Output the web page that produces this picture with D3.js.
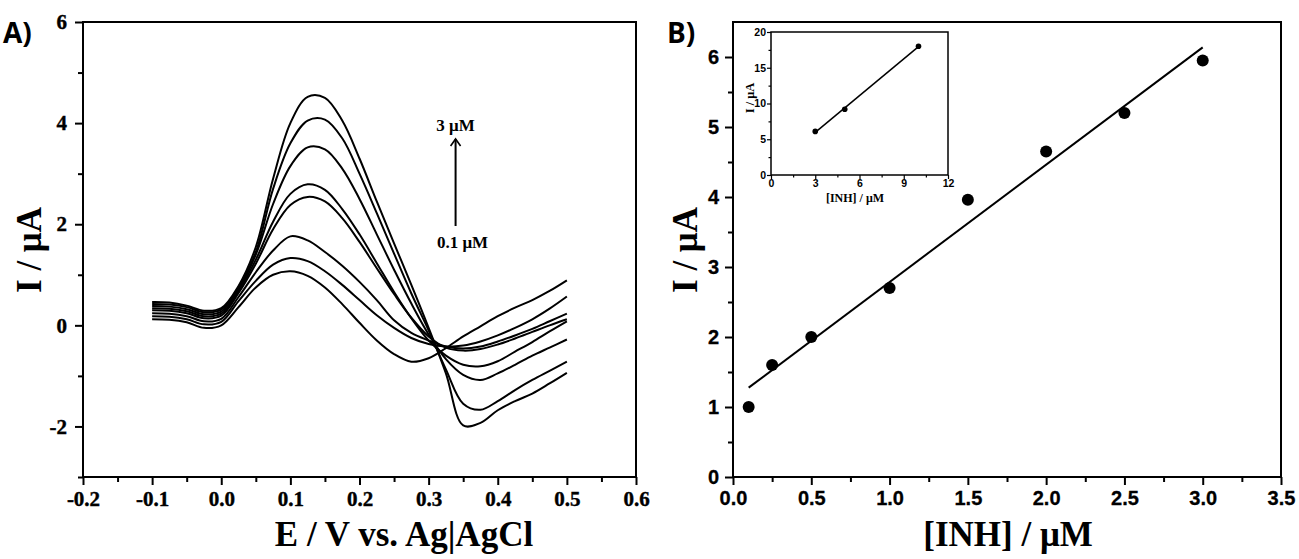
<!DOCTYPE html>
<html><head><meta charset="utf-8">
<script src="https://cdn.jsdelivr.net/npm/d3@7"></script>
<style>
body{margin:0;background:#fff}svg{display:block}
.axA text{font-family:"Liberation Serif","Times New Roman",serif !important;font-weight:bold !important;font-size:21px !important;fill:#000;stroke:#000;stroke-width:0.4px}
.axB text{font-family:"Liberation Sans",Arial,sans-serif !important;font-weight:bold !important;font-size:20px !important;fill:#000;stroke:#000;stroke-width:0.3px}
.axI text{font-family:"Liberation Sans",Arial,sans-serif !important;font-weight:bold !important;font-size:10.5px !important;fill:#000}
</style>
</head><body><svg id="c" width="1299" height="559"></svg>
<script>
// ---------- Panel A data (DPV curves) ----------
const potential = [-0.1,-0.075,-0.05,-0.025,0,0.025,0.05,0.075,0.1,0.125,0.15,0.175,0.2,0.225,0.25,0.275,0.3,0.325,0.35,0.375,0.4,0.425,0.45,0.475,0.5];
const curve3uM   = [0.46,0.45,0.39,0.29,0.34,0.78,1.55,2.9,4.0,4.52,4.5,4.05,3.3,2.45,1.62,0.8,-0.05,-0.95,-1.98,-1.93,-1.68,-1.5,-1.35,-1.15,-0.94];
const curve2_5uM = [0.42,0.41,0.36,0.26,0.31,0.75,1.45,2.7,3.6,4.05,4.07,3.7,3.0,2.22,1.42,0.63,-0.1,-0.87,-1.55,-1.67,-1.5,-1.28,-1.08,-0.9,-0.72];
const curve2uM   = [0.38,0.37,0.32,0.22,0.27,0.72,1.4,2.4,3.15,3.52,3.48,3.1,2.5,1.8,1.1,0.43,-0.18,-0.67,-0.98,-1.08,-0.95,-0.78,-0.6,-0.44,-0.28];
const curve1_5uM = [0.34,0.33,0.28,0.18,0.23,0.68,1.3,2.05,2.6,2.79,2.68,2.3,1.8,1.23,0.66,0.14,-0.3,-0.6,-0.78,-0.81,-0.71,-0.52,-0.33,-0.12,0.08];
const curve1uM   = [0.30,0.29,0.24,0.14,0.19,0.64,1.22,1.9,2.38,2.54,2.45,2.12,1.65,1.13,0.62,0.15,-0.22,-0.44,-0.5,-0.47,-0.38,-0.26,-0.13,0.0,0.12];
const curve0_5uM = [0.24,0.23,0.18,0.08,0.13,0.56,1.05,1.48,1.76,1.68,1.45,1.18,0.86,0.5,0.1,-0.15,-0.3,-0.42,-0.46,-0.42,-0.32,-0.2,-0.07,0.08,0.23];
const curve0_25uM= [0.18,0.17,0.12,0.02,0.07,0.48,0.88,1.2,1.33,1.27,1.07,0.8,0.5,0.2,-0.05,-0.25,-0.37,-0.42,-0.4,-0.32,-0.2,-0.05,0.12,0.33,0.57];
const curve0_1uM = [0.12,0.11,0.06,-0.05,0.0,0.36,0.75,1.0,1.07,0.98,0.75,0.42,0.05,-0.3,-0.57,-0.72,-0.65,-0.45,-0.22,-0.02,0.18,0.35,0.5,0.68,0.89];
const curvesA = [curve3uM,curve2_5uM,curve2uM,curve1_5uM,curve1uM,curve0_5uM,curve0_25uM,curve0_1uM];
const xTickLabelsA = ['-0.2','-0.1','0.0','0.1','0.2','0.3','0.4','0.5','0.6'];
const yTickLabelsA = ['-2','0','2','4','6'];

// ---------- Panel B data (calibration) ----------
const concB    = [0.1,0.25,0.5,1.0,1.5,2.0,2.5,3.0];
const currentB = [1.0,1.6,2.0,2.7,3.96,4.65,5.2,5.95];
const xTickLabelsB = ['0.0','0.5','1.0','1.5','2.0','2.5','3.0','3.5'];
const yTickLabelsB = ['0','1','2','3','4','5','6'];

// ---------- Inset data ----------
const concInset    = [3,5,10];
const currentInset = [6.1,9.2,18.0];
const xTickLabelsInset = ['0','3','6','9','12'];
const yTickLabelsInset = ['0','5','10','15','20'];

const svg = d3.select('#c');
const SERIF = '"Liberation Serif","Times New Roman",serif';
const BLOCKY = '"Open Sans","Liberation Sans",sans-serif';

function fit(xs, ys){
  const mx = d3.mean(xs), my = d3.mean(ys);
  let sxy=0, sxx=0;
  xs.forEach((x,i)=>{sxy+=(x-mx)*(ys[i]-my); sxx+=(x-mx)*(x-mx);});
  const b = sxy/sxx; return {b, a: my-b*mx};
}
const num = s => +s;
const fmt = labels => v => { const l = labels.find(s => Math.abs(+s - v) < 1e-9); return l === undefined ? '' : l; };

function styleAxis(g, cls, sw){
  g.attr('class', cls).attr('font-family', null).attr('font-size', null);
  g.select('.domain').remove();
  g.selectAll('line').attr('stroke','#000').attr('stroke-width',sw);
}
function frame(x0,x1,y0,y1,w){
  svg.append('rect').attr('x',x0).attr('y',y0).attr('width',x1-x0).attr('height',y1-y0)
    .attr('fill','none').attr('stroke','#000').attr('stroke-width',w);
}
function label(g, x, y, txt, font, size, rot){
  const t = g.append('text').attr('text-anchor','middle')
    .style('font-family',font).style('font-weight','bold').style('font-size',size+'px').attr('fill','#000').text(txt);
  if (rot) t.attr('transform',`translate(${x},${y}) rotate(-90)`); else t.attr('x',x).attr('y',y);
  return t;
}

// ================= Panel A =================
const xA = d3.scaleLinear().domain([-0.2,0.6]).range([83,636]);
const yA = d3.scaleLinear().domain([-3,6]).range([477,22]);

const gA = svg.append('g');
gA.append('g').attr('transform','translate(0,477)')
  .call(d3.axisBottom(xA).tickValues(d3.range(-0.15,0.6,0.1)).tickSize(5).tickFormat('').tickSizeOuter(0))
  .call(g=>styleAxis(g,'axA',2));
gA.append('g').attr('transform','translate(0,477)')
  .call(d3.axisBottom(xA).tickValues(xTickLabelsA.map(num)).tickSize(8).tickPadding(6).tickFormat(fmt(xTickLabelsA)).tickSizeOuter(0))
  .call(g=>styleAxis(g,'axA',2));
gA.append('g').attr('transform','translate(83,0)')
  .call(d3.axisLeft(yA).tickValues([-3,-1,1,3,5]).tickSize(5).tickFormat('').tickSizeOuter(0))
  .call(g=>styleAxis(g,'axA',2));
gA.append('g').attr('transform','translate(83,0)')
  .call(d3.axisLeft(yA).tickValues(yTickLabelsA.map(num)).tickSize(8).tickPadding(8).tickFormat(fmt(yTickLabelsA)).tickSizeOuter(0))
  .call(g=>styleAxis(g,'axA',2));
frame(83,636,22,477,2);

const lineA = d3.line().x((d,i)=>xA(potential[i])).y(d=>yA(d)).curve(d3.curveCatmullRom.alpha(0.5));
gA.selectAll('path.cv').data(curvesA).enter().append('path').attr('class','cv')
  .attr('d',lineA).attr('fill','none').attr('stroke','#000').attr('stroke-width',2);

// annotation
label(gA, xA(0.339), 131, '3 μM', SERIF, 17);
gA.append('line').attr('x1',xA(0.339)).attr('x2',xA(0.339)).attr('y1',226).attr('y2',139)
  .attr('stroke','#000').attr('stroke-width',2);
gA.append('path').attr('d',`M${xA(0.339)-5},${146} L${xA(0.339)},${139} L${xA(0.339)+5},${146}`)
  .attr('fill','none').attr('stroke','#000').attr('stroke-width',1.6);
label(gA, xA(0.349), 248, '0.1 μM', SERIF, 17);

label(gA, 41, 250, 'I / μA', SERIF, 35, true);
label(gA, 404, 546, 'E / V vs. Ag|AgCl', SERIF, 35);
svg.append('text').attr('x',3).attr('y',43).style('font-family',BLOCKY)
  .style('font-weight','bold').style('font-size','28px').text('A)');

// ================= Panel B =================
const xB = d3.scaleLinear().domain([0,3.5]).range([733,1281]);
const yB = d3.scaleLinear().domain([0,6.5]).range([477,22]);
const gB = svg.append('g');
gB.append('g').attr('transform','translate(0,477)')
  .call(d3.axisBottom(xB).tickValues(d3.range(0.25,3.5,0.5)).tickSize(5).tickFormat('').tickSizeOuter(0))
  .call(g=>styleAxis(g,'axB',2));
gB.append('g').attr('transform','translate(0,477)')
  .call(d3.axisBottom(xB).tickValues(xTickLabelsB.map(num)).tickSize(8).tickPadding(6).tickFormat(fmt(xTickLabelsB)).tickSizeOuter(0))
  .call(g=>styleAxis(g,'axB',2));
gB.append('g').attr('transform','translate(733,0)')
  .call(d3.axisLeft(yB).tickValues(d3.range(0.5,6.5,1)).tickSize(5).tickFormat('').tickSizeOuter(0))
  .call(g=>styleAxis(g,'axB',2));
gB.append('g').attr('transform','translate(733,0)')
  .call(d3.axisLeft(yB).tickValues(yTickLabelsB.map(num)).tickSize(8).tickPadding(6).tickFormat(fmt(yTickLabelsB)).tickSizeOuter(0))
  .call(g=>styleAxis(g,'axB',2));
frame(733,1281,22,477,2);

const fB = fit(concB,currentB);
const x0B = d3.min(concB), x1B = d3.max(concB);
gB.append('line').attr('x1',xB(x0B)).attr('y1',yB(fB.a+fB.b*x0B)).attr('x2',xB(x1B)).attr('y2',yB(fB.a+fB.b*x1B))
  .attr('stroke','#000').attr('stroke-width',2);
gB.selectAll('circle.pt').data(concB).enter().append('circle').attr('class','pt')
  .attr('cx',d=>xB(d)).attr('cy',(d,i)=>yB(currentB[i])).attr('r',6).attr('fill','#000');

label(gB, 697, 250, 'I / μA', SERIF, 35, true);
label(gB, 1008, 546, '[INH] / μM', SERIF, 35);
svg.append('text').attr('x',667).attr('y',43).style('font-family',BLOCKY)
  .style('font-weight','bold').style('font-size','28px').text('B)');

// ================= Inset =================
const xI = d3.scaleLinear().domain([0,12]).range([771,948]);
const yI = d3.scaleLinear().domain([0,20]).range([175,32]);
const gI = svg.append('g');
gI.append('g').attr('transform','translate(0,175)')
  .call(d3.axisBottom(xI).tickValues(d3.range(1.5,12,3)).tickSize(2.5).tickFormat('').tickSizeOuter(0)).call(g=>styleAxis(g,'axI',1.2));
gI.append('g').attr('transform','translate(0,175)')
  .call(d3.axisBottom(xI).tickValues(xTickLabelsInset.map(num)).tickSize(4).tickPadding(1).tickFormat(fmt(xTickLabelsInset)).tickSizeOuter(0)).call(g=>styleAxis(g,'axI',1.2));
gI.append('g').attr('transform','translate(771,0)')
  .call(d3.axisLeft(yI).tickValues(d3.range(2.5,20,5)).tickSize(2.5).tickFormat('').tickSizeOuter(0)).call(g=>styleAxis(g,'axI',1.2));
gI.append('g').attr('transform','translate(771,0)')
  .call(d3.axisLeft(yI).tickValues(yTickLabelsInset.map(num)).tickSize(4).tickPadding(1).tickFormat(fmt(yTickLabelsInset)).tickSizeOuter(0)).call(g=>styleAxis(g,'axI',1.2));
svg.append('rect').attr('x',771).attr('y',32).attr('width',177).attr('height',143)
  .attr('fill','none').attr('stroke','#000').attr('stroke-width',1.5);
const fI = fit(concInset,currentInset);
const x0I = d3.min(concInset), x1I = d3.max(concInset);
gI.append('line').attr('x1',xI(x0I)).attr('y1',yI(fI.a+fI.b*x0I)).attr('x2',xI(x1I)).attr('y2',yI(fI.a+fI.b*x1I))
  .attr('stroke','#000').attr('stroke-width',1.5);
gI.selectAll('circle.ip').data(concInset).enter().append('circle').attr('class','ip')
  .attr('cx',d=>xI(d)).attr('cy',(d,i)=>yI(currentInset[i])).attr('r',2.8).attr('fill','#000');
label(gI, 754, 98, 'I / μA', SERIF, 12.5, true);
label(gI, 855, 202, '[INH] / μM', SERIF, 12);
</script></body></html>
